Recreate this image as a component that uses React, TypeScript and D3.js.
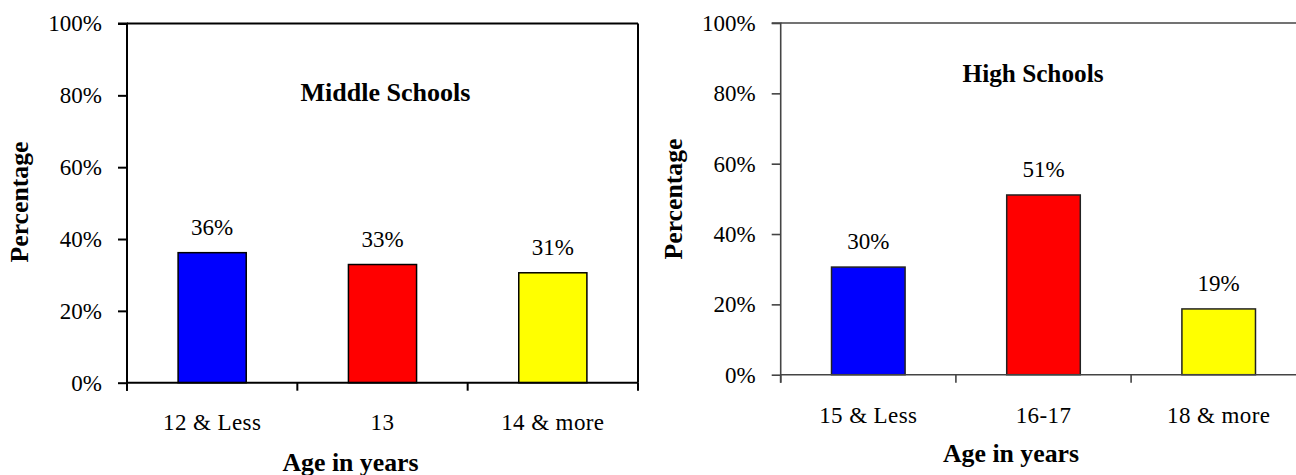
import React, { useEffect, useRef } from "react";
import * as d3 from "d3";

const middleCats = ["12 & Less", "13", "14 & more"];
const middleValues = [0.362, 0.329, 0.306];
const middleLabels = ["36%", "33%", "31%"];

const highCats = ["15 & Less", "16-17", "18 & more"];
const highValues = [0.306, 0.511, 0.187];
const highLabels = ["30%", "51%", "19%"];

const barColors = ["#0000FF", "#FF0000", "#FFFF00"];
const yTicks = [0, 0.2, 0.4, 0.6, 0.8, 1.0];

const FONT = '"Liberation Serif", "Times New Roman", Times, serif';
const REG = "23px";
const BOLD = "25px";

type PanelCfg = {
  cats: string[];
  values: number[];
  labels: string[];
  title: string;
  x0: number;
  x1: number;
  yTop: number;
  yBottom: number;
  pad: number;
  outer: number;
  axisColor: string;
  axisWidth: number;
  frameRight: boolean;
  titleX: number;
  titleY: number;
  titleLen: number;
  catY: number;
  xTitleX: number;
  xTitleY: number;
  yTitleX: number;
  yTitleY: number;
  barStroke: string;
};

function drawPanel(svg: d3.Selection<SVGSVGElement, unknown, null, undefined>, c: PanelCfg) {
  const g = svg.append("g");
  const x = d3.scaleBand<string>().domain(c.cats).range([c.x0, c.x1]).paddingInner(c.pad).paddingOuter(c.outer);
  const y = d3.scaleLinear().domain([0, 1]).range([c.yBottom, c.yTop]);

  g.selectAll("rect.bar")
    .data(c.values)
    .enter()
    .append("rect")
    .attr("x", (_d, i) => x(c.cats[i]) as number)
    .attr("y", (d) => y(d))
    .attr("width", x.bandwidth())
    .attr("height", (d) => y(0) - y(d))
    .attr("fill", (_d, i) => barColors[i])
    .attr("stroke", c.barStroke)
    .attr("stroke-width", 1.5);

  g.selectAll("text.val")
    .data(c.values)
    .enter()
    .append("text")
    .attr("x", (_d, i) => (x(c.cats[i]) as number) + x.bandwidth() / 2)
    .attr("y", (d) => y(d) - 18)
    .attr("text-anchor", "middle")
    .style("font-family", FONT)
    .style("font-size", REG)
    .attr("fill", "#000")
    .text((_d, i) => c.labels[i]);

  g.append("line").attr("x1", c.x0).attr("x2", c.x1).attr("y1", y(1)).attr("y2", y(1))
    .attr("stroke", c.axisColor).attr("stroke-width", c.axisWidth);
  if (c.frameRight) {
    g.append("line").attr("x1", c.x1).attr("x2", c.x1).attr("y1", y(1)).attr("y2", y(0))
      .attr("stroke", c.axisColor).attr("stroke-width", c.axisWidth);
  }

  const yAxis = d3.axisLeft(y).tickValues(yTicks).tickSize(9).tickPadding(16)
    .tickFormat((d) => d3.format(".0%")(d as number));
  const ya = g.append("g").attr("transform", `translate(${c.x0},0)`).call(yAxis);
  ya.attr("font-family", null).attr("font-size", null);
  ya.select(".domain").attr("stroke", c.axisColor).attr("stroke-width", c.axisWidth)
    .attr("d", `M-9,${y(1)}H0V${y(0) + 8}`);
  ya.selectAll(".tick line").attr("stroke", c.axisColor).attr("stroke-width", c.axisWidth);
  ya.selectAll(".tick text").style("font-family", FONT).style("font-size", REG).attr("fill", "#000");

  const xAxis = d3.axisBottom(x).tickSize(0).tickPadding(0);
  const xa = g.append("g").attr("transform", `translate(0,${y(0)})`).call(xAxis);
  xa.attr("font-family", null).attr("font-size", null);
  xa.select(".domain").attr("stroke", c.axisColor).attr("stroke-width", c.axisWidth)
    .attr("d", `M${c.x0},0H${c.x1}`);
  xa.selectAll(".tick line").remove();
  xa.selectAll(".tick text").style("font-family", FONT).style("font-size", REG).attr("fill", "#000")
    .style("letter-spacing", "0.4px")
    .attr("dy", 0).attr("y", c.catY - y(0));
  const step = x.step();
  const bounds = d3.range(c.cats.length + 1).map((i) => c.x0 + i * step);
  xa.selectAll("line.sep").data(bounds).enter().append("line")
    .attr("x1", (d) => d).attr("x2", (d) => d).attr("y1", 0).attr("y2", 8)
    .attr("stroke", c.axisColor).attr("stroke-width", c.axisWidth);

  const bold = (sel: d3.Selection<SVGTextElement, unknown, null, undefined>, len: number) =>
    sel.attr("text-anchor", "middle")
      .style("font-family", FONT).style("font-weight", "bold").style("font-size", BOLD)
      .attr("textLength", len).attr("lengthAdjust", "spacingAndGlyphs");

  bold(g.append("text").attr("x", c.titleX).attr("y", c.titleY), c.titleLen).text(c.title);
  bold(g.append("text").attr("x", c.xTitleX).attr("y", c.xTitleY), 136).text("Age in years");
  bold(g.append("text").attr("transform", `translate(${c.yTitleX},${c.yTitleY}) rotate(-90)`), 121)
    .text("Percentage");
}

export default function App() {
  const ref = useRef<SVGSVGElement | null>(null);
  useEffect(() => {
    if (!ref.current) return;
    const svg = d3.select(ref.current);
    svg.selectAll("*").remove();
    drawPanel(svg, {
      cats: middleCats, values: middleValues, labels: middleLabels, title: "Middle Schools",
      x0: 127, x1: 638, yTop: 23.5, yBottom: 382.7, pad: 0.6, outer: 0.3,
      axisColor: "#000", axisWidth: 2, frameRight: true,
      titleX: 385.5, titleY: 101, titleLen: 170, catY: 430,
      xTitleX: 350.5, xTitleY: 471, yTitleX: 28, yTitleY: 202, barStroke: "#000",
    });
    drawPanel(svg, {
      cats: highCats, values: highValues, labels: highLabels, title: "High Schools",
      x0: 780.7, x1: 1306.3, yTop: 23, yBottom: 374.7, pad: 0.58, outer: 0.29,
      axisColor: "#444", axisWidth: 1.6, frameRight: false,
      titleX: 1033, titleY: 82, titleLen: 141, catY: 423,
      xTitleX: 1011, xTitleY: 461.5, yTitleX: 682, yTitleY: 199, barStroke: "#222",
    });
  }, []);
  return (
    <svg
      ref={ref}
      width={1296}
      height={475}
      style={{ position: "absolute", left: 0, top: 0, background: "#fff" }}
    />
  );
}
